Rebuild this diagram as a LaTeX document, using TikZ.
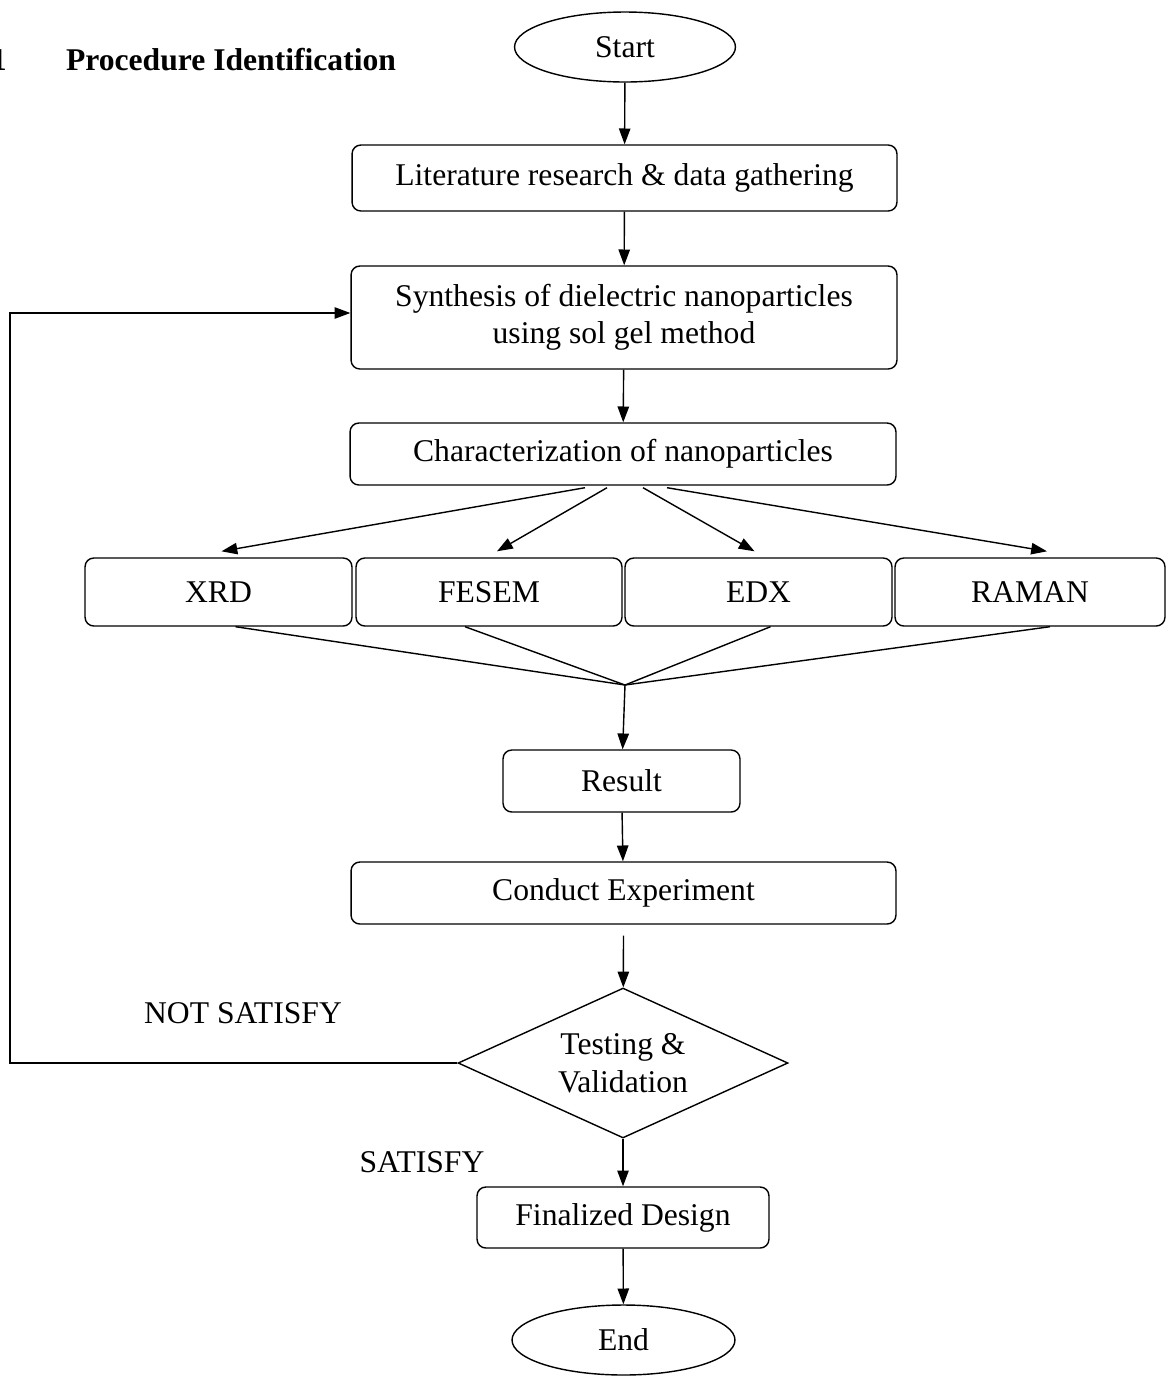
\documentclass[tikz,border=0pt]{standalone}
\usepackage{fontspec}
\setmainfont{Liberation Serif}
\usetikzlibrary{shapes.geometric,arrows.meta,calc}
\begin{document}
\begin{tikzpicture}[x=0.02cm,y=-0.02cm,
  every node/.style={font=\fontsize{18}{21.5}\selectfont},
  box/.style={draw,rounded corners=5pt,line width=0.8pt,align=center,inner sep=0pt},
  oval/.style={draw,ellipse,line width=0.8pt,inner sep=0pt},
  dec/.style={draw,diamond,aspect=2.2,line width=0.8pt,align=center,inner sep=0pt},
  conn/.style={line width=0.8pt},
  arr/.style={line width=0.8pt,-{Triangle[length=9pt,width=6.5pt]}},
  lbl/.style={inner sep=0pt}]
\useasboundingbox (0,0) rectangle (1171,1377);
\node[lbl,anchor=east] (num) at (7,60) {\textbf{1}};
\node[lbl] (head) at (231,60) {\textbf{Procedure Identification}};
\node[oval,minimum width=4.42cm,minimum height=1.4cm] (start) at (625,47) {Start};
\node[box,minimum width=10.9cm,minimum height=1.32cm] (lit) at (624.5,178) {\raisebox{-2pt}{Literature research \& data gathering}};
\node[box,minimum width=10.92cm,minimum height=2.06cm] (syn) at (624,317.5) {\raisebox{-3pt}{\begin{tabular}{@{}c@{}}Synthesis of dielectric nanoparticles\\using sol gel method\end{tabular}}};
\node[box,minimum width=10.92cm,minimum height=1.24cm] (char) at (623,454) {\raisebox{-2pt}{Characterization of nanoparticles}};
\node[box,minimum width=5.34cm,minimum height=1.36cm] (xrd) at (218.5,592) {XRD};
\node[box,minimum width=5.32cm,minimum height=1.36cm] (fesem) at (489,592) {FESEM};
\node[box,minimum width=5.34cm,minimum height=1.36cm] (edx) at (758.5,592) {EDX};
\node[box,minimum width=5.4cm,minimum height=1.36cm] (raman) at (1030,592) {RAMAN};
\coordinate (merge) at (625,685);
\node[box,minimum width=4.74cm,minimum height=1.24cm] (result) at (621.5,781) {Result};
\node[box,minimum width=10.9cm,minimum height=1.24cm] (conduct) at (623.5,893) {\raisebox{-2pt}{Conduct Experiment}};
\node[dec,minimum width=6.6cm,minimum height=3cm] (test) at (623,1063) {Testing \&\\Validation};
\node[box,minimum width=5.84cm,minimum height=1.22cm] (final) at (623,1217.5) {Finalized Design};
\node[oval,minimum width=4.46cm,minimum height=1.4cm] (end) at (623.5,1340) {End};
\node[lbl] (notsat) at (243,1013) {NOT SATISFY};
\node[lbl] (sat) at (422,1162) {SATISFY};
\coordinate (lb) at (10,1063);
\coordinate (lt) at (10,313);

\draw[arr] (start) -- (lit);
\draw[arr] (lit) -- (syn);
\draw[arr] (syn) -- (char);
\draw[arr] ($(char.south)+(-38,2)$) -- ($(xrd.north)+(3,-6)$);
\draw[arr] ($(char.south)+(-16,2)$) -- ($(fesem.north)+(8,-6)$);
\draw[arr] ($(char.south)+(20,2)$) -- ($(edx.north)+(-4,-6)$);
\draw[arr] ($(char.south)+(44,2)$) -- ($(raman.north)+(17,-6)$);
\draw[conn] ($(xrd.south)+(17,0)$) -- (merge);
\draw[conn] ($(fesem.south)+(-24,0)$) -- (merge);
\draw[conn] ($(edx.south)+(12,0)$) -- (merge);
\draw[conn] ($(raman.south)+(20,0)$) -- (merge);
\draw[arr] (merge) -- (result);
\draw[arr] (result) -- (conduct);
\draw[arr] ($(conduct.south)+(0,11)$) -- (test);
\draw[arr] (test) -- (final);
\draw[arr] (final) -- (end);
\draw[arr] (test.west) -- (lb) -- (lt) -- (lt -| syn.west);
\end{tikzpicture}
\end{document}
